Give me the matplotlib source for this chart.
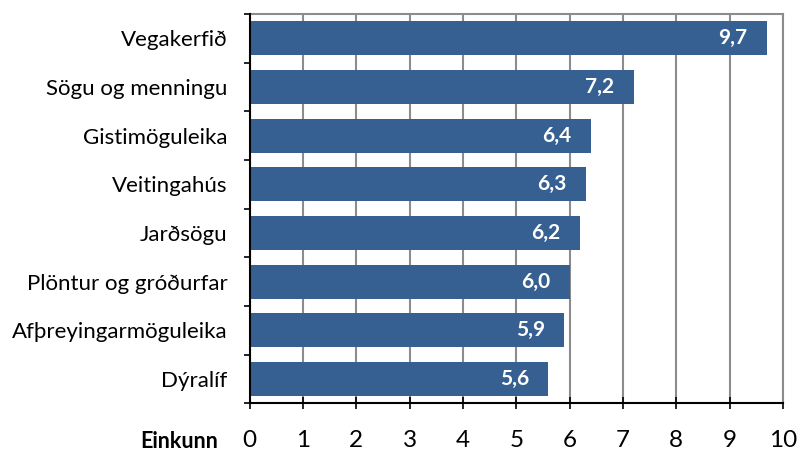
import matplotlib.pyplot as plt
from matplotlib.transforms import blended_transform_factory

categories = ["Vegakerfið", "Sögu og menningu", "Gistimöguleika", "Veitingahús",
              "Jarðsögu", "Plöntur og gróðurfar", "Afþreyingarmöguleika", "Dýralíf"]
values = [9.7, 7.2, 6.4, 6.3, 6.2, 6.0, 5.9, 5.6]
xticks = list(range(0, 11))

BAR = "#376092"
GRID = "#8c8c8c"

plt.rcParams["font.family"] = ["Lato", "DejaVu Sans"]

fig = plt.figure(figsize=(7.98, 4.53), dpi=100)
ax = fig.add_axes([0.313, 0.110, 0.668, 0.859])

pos = list(range(len(categories)))
ax.barh(pos, values, height=0.7, color=BAR, zorder=3)
for p, v in zip(pos, values):
    ax.annotate(f"{v:.1f}".replace(".", ","), xy=(v, p), xytext=(-14, 0),
                textcoords="offset points", ha="right", va="center",
                color="white", fontsize=15, fontweight="bold", zorder=4)

ax.set_xlim(0, 10)
ax.set_ylim(len(categories) - 0.5, -0.5)
ax.set_xticks(xticks)
ax.set_xticklabels([str(t) for t in xticks], fontsize=17.5)
ax.set_yticks(pos)
ax.set_yticklabels(categories, fontsize=16)
ax.set_yticks([p - 0.5 for p in pos] + [len(categories) - 0.5], minor=True)

ax.tick_params(axis="y", which="major", length=0, pad=16)
ax.tick_params(axis="y", which="minor", length=4, width=1.2, direction="out")
ax.tick_params(axis="x", length=8, width=1.2, direction="inout", pad=15)

ax.grid(axis="x", color=GRID, linewidth=1.5, zorder=0)
for side in ("top", "right"):
    ax.spines[side].set_color(GRID)
    ax.spines[side].set_linewidth(1.5)
for side in ("left", "bottom"):
    ax.spines[side].set_color("black")
    ax.spines[side].set_linewidth(1.5)
    ax.spines[side].set_zorder(5)

trans = blended_transform_factory(ax.transData, ax.transAxes)
ax.text(-0.6, -0.098, "Einkunn", transform=trans, ha="right", va="center",
        fontsize=15.5, fontweight="bold")

fig.savefig("out.png", dpi=100)
